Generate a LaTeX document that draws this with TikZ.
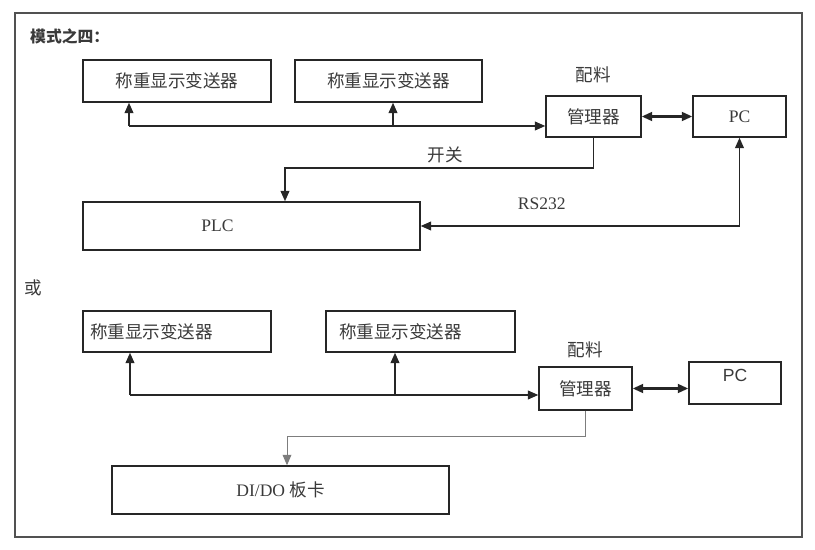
\documentclass[tikz,border=0pt]{standalone}
\usepackage{fontspec}
\setmainfont{Liberation Serif}
\setsansfont{Liberation Sans}
\newfontfamily\cjk{Noto Sans CJK SC}
\usetikzlibrary{positioning, arrows.meta}
\definecolor{ink}{HTML}{262626}
\definecolor{txt}{HTML}{3A3A3A}

\tikzset{
  blk/.style={draw=ink, line width=0.8pt, inner sep=0pt, text=txt, font=\fontsize{10}{12}\selectfont},
  link/.style={draw=ink, line width=1pt, -{Triangle[length=6pt,width=5pt]}},
  dlink/.style={link, line width=1.4pt, {Triangle[length=6pt,width=5pt]}-{Triangle[length=6pt,width=5pt]}},
  lbl/.style={text=txt, font=\fontsize{10}{12}\selectfont},
}

\begin{document}
\begin{tikzpicture}[x=0.02cm, y=-0.02cm]
\useasboundingbox (0,0) rectangle (815,550);
% outer frame
\draw[ink!80, line width=0.8pt] (15,13) rectangle (802,537);

% Mode four
\node[lbl, anchor=west, font=\fontsize{9}{11}\selectfont\bfseries] (title) at (24,36) {\cjk 模式之四：};
\node[blk, minimum width=3.76cm, minimum height=0.84cm] (w1) at (177,81) {\cjk 称重显示变送器};
\node[blk, minimum width=3.74cm, minimum height=0.84cm] (w2) at (388.5,81) {\cjk 称重显示变送器};
\node[blk, minimum width=1.9cm, minimum height=0.82cm, text depth=-0.12cm] (mgr1) at (593.5,116.5) {\cjk 管理器};
\node[lbl, above=0.12cm of mgr1] (pl1) {\cjk 配料};
\node[blk, minimum width=1.86cm, minimum height=0.82cm, text depth=-0.1cm] (pc1) at (739.5,116.5) {PC};
\node[blk, minimum width=6.74cm, minimum height=0.96cm, label={[lbl, xshift=-0.68cm]center:PLC}] (plc) at (251.5,226) {};

\coordinate (j1) at (129,126);
\coordinate (j2) at (393,126);
\coordinate (s1) at (285,168);
\draw[link] (j1) -- (j1 -| mgr1.west);
\draw[link] (j1) -- (j1 |- w1.south);
\draw[link] (j2) -- (j2 |- w2.south);
\draw[dlink] (mgr1.east) -- (pc1.west);
\draw[link] (mgr1.south) |- (s1) node[lbl, pos=0.74, above=-1pt] (kg) {\cjk 开关} -- (s1 |- plc.north);
\draw[dlink, line width=1pt] (pc1.south) |- (plc.east) node[lbl, pos=0.81, above=0.2cm] (rs) {RS232};

% or
\node[lbl] (huo) at (33,288) {\cjk 或};
\node[blk, minimum width=3.76cm, minimum height=0.82cm, text width=3.48cm, inner xsep=0.14cm, align=left] (w3) at (177,331.5) {\cjk 称重显示变送器};
\node[blk, minimum width=3.78cm, minimum height=0.82cm, text width=3.26cm, inner xsep=0.26cm, align=left] (w4) at (420.5,331.5) {\cjk 称重显示变送器};
\node[blk, minimum width=1.86cm, minimum height=0.86cm] (mgr2) at (585.5,388.5) {\cjk 管理器};
\node[lbl, above=0.05cm of mgr2] (pl2) {\cjk 配料};
\node[blk, minimum width=1.84cm, minimum height=0.84cm, label={[lbl, below=1pt, font=\sffamily\fontsize{10}{12}\selectfont]north:PC}] (pc2) at (735,383) {};
\node[blk, minimum width=6.74cm, minimum height=0.96cm] (dio) at (280.5,490) {DI/DO {\cjk 板卡}};

\coordinate (j3) at (130,395);
\coordinate (j4) at (395,395);
\coordinate (s2) at (287,436);
\draw[link] (j3) -- (j3 -| mgr2.west);
\draw[link] (j3) -- (j3 |- w3.south);
\draw[link] (j4) -- (j4 |- w4.south);
\draw[dlink] (mgr2.east) -- (mgr2.east -| pc2.west);
\draw[link, draw=ink!60, line width=0.5pt] (mgr2.south) |- (s2) -- (s2 |- dio.north);
\end{tikzpicture}
\end{document}
